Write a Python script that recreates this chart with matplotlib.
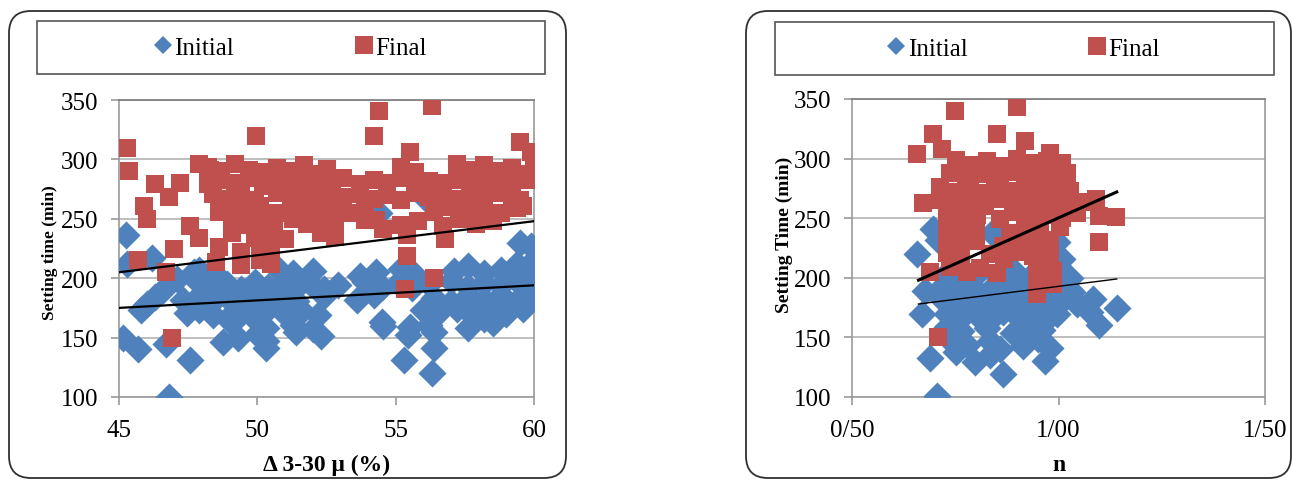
import matplotlib.pyplot as plt
from matplotlib.patches import FancyBboxPatch, Rectangle
from matplotlib.transforms import IdentityTransform
from matplotlib.lines import Line2D

# --- left chart: setting time vs delta 3-30 micron ---
init_x = [45.25, 45.15, 45.7, 45.3, 46.2, 45.8, 46.3, 47.55, 46.8, 46.7, 47.1, 47.45,
          46.0, 46.6, 47.3, 47.7,
          47.9, 48.5, 50.7, 51.3, 52.0, 53.7, 54.3, 55.2, 55.7, 57.1, 57.6, 58.2, 58.8, 59.4, 59.9,
          47.9, 48.4, 48.9, 49.4, 49.9, 50.4, 50.9, 51.4, 51.9, 52.4, 52.9, 53.9, 54.5, 55.1,
          55.6, 56.2, 57.0, 57.6, 58.2, 58.8, 59.4, 60.0,
          47.9, 48.4, 48.9, 49.4, 49.9, 50.4, 50.9, 51.4, 52.4, 53.6, 54.2, 56.4, 57.0, 57.6,
          58.2, 58.8, 59.4, 60.0,
          47.9, 48.4, 49.2, 49.8, 50.4, 51.0, 51.6, 52.2, 56.0, 56.5, 57.2, 57.8, 58.4, 59.0, 59.6,
          49.1, 50.3, 51.3, 52.0, 54.5, 55.5, 56.2, 57.6, 58.5,
          49.3, 50.3, 52.3,
          54.4, 54.55, 55.45, 55.3, 56.3, 56.4, 56.4, 56.1, 50.0, 48.75, 50.3, 51.4,
          59.5, 59.9, 60.0, 59.6, 58.2, 58.5]
init_y = [236, 150, 140, 212, 217, 173, 184, 131, 100, 145, 199, 171,
          178, 190, 182, 205,
          207, 203, 209, 204, 206, 202, 205, 208, 203, 206, 210, 204, 207, 212, 209,
          196, 192, 195, 191, 197, 193, 195, 192, 196, 191, 194, 197, 193, 196,
          192, 195, 198, 193, 196, 194, 198, 192,
          185, 181, 184, 180, 186, 182, 184, 181, 185, 182, 186, 183, 180, 185,
          182, 186, 181, 184,
          173, 169, 172, 168, 174, 170, 172, 169, 173, 170, 174, 168, 172, 170, 174,
          162, 158, 161, 157, 163, 159, 161, 158, 162,
          150, 147, 151,
          255, 160, 152, 131, 120, 141, 155, 267, 153, 146, 141, 155,
          230, 227, 215, 185, 166, 166]
final_x = [45.3, 45.35, 45.7, 46.3, 45.9, 46.0, 47.2, 46.8, 47.0, 46.7, 46.9, 47.55,
           47.9, 47.9, 48.3,
           48.2, 48.7, 49.2, 49.7, 50.2, 50.7, 51.2, 51.7, 52.2, 52.5,
           48.2, 48.7, 49.2, 49.7, 50.2, 50.7, 51.2, 51.7, 52.2, 52.7, 53.1,
           48.4, 48.9, 49.4, 49.9, 50.7, 51.2, 51.7, 52.2, 52.7, 53.1,
           48.6, 49.1, 49.6, 50.1, 50.7, 51.2, 51.7, 52.2, 52.7, 53.3, 53.9,
           49.1, 49.6, 50.1, 50.6, 51.3, 51.8, 52.3, 52.8, 53.9,
           49.1, 49.9, 50.5, 51.0, 52.3, 52.8,
           48.6, 49.4, 50.1, 50.5,
           48.5, 49.4, 50.1, 50.5,
           55.2, 55.7, 57.2, 57.7, 58.2, 58.7, 59.2, 59.5,
           53.7, 54.2, 54.7, 55.2, 55.7, 56.2, 56.7, 57.2, 57.7, 58.2, 58.7, 59.2, 59.5,
           53.7, 54.2, 54.7, 55.2, 55.7, 56.2, 56.7, 57.2, 57.7, 58.2, 58.7, 59.2, 59.5,
           56.4, 57.0, 57.6, 58.2, 58.8, 59.4,
           54.3, 55.2, 55.8, 56.7, 57.3, 57.9, 58.5,
           55.4, 56.8,
           60.0, 60.0, 59.9, 59.5, 59.6, 60.0,
           49.95, 54.4, 54.2, 56.3, 55.5, 55.4, 55.35, 56.4, 54.55]
final_y = [310, 290, 215, 279, 261, 250, 280, 268, 225, 205, 150, 244,
           234, 296, 291,
           294, 290, 296, 291, 289, 293, 290, 295, 288, 292,
           279, 283, 280, 284, 278, 282, 280, 283, 279, 281, 284,
           271, 267, 270, 266, 272, 268, 270, 267, 271, 268,
           256, 260, 257, 261, 255, 259, 256, 260, 257, 255, 259,
           249, 245, 248, 244, 250, 246, 248, 245, 249,
           238, 234, 237, 233, 238, 235,
           226, 222, 225, 223,
           214, 211, 215, 212,
           294, 289, 296, 291, 295, 290, 293, 288,
           279, 283, 280, 284, 278, 282, 280, 283, 279, 281, 284, 280, 283,
           271, 267, 270, 266, 272, 268, 270, 267, 271, 268, 272, 269, 266,
           256, 260, 257, 261, 255, 259,
           249, 245, 248, 244, 250, 246, 248,
           236, 233,
           283, 294, 306, 315, 261, 300,
           320, 341, 320, 345, 306, 219, 191, 200, 241]
trend_left_x = [45, 60]
trend_left_init = [175, 194]
trend_left_final = [205, 248]

# --- right chart: setting time vs n ---
init_n = [0.729, 0.765, 0.802, 0.858, 0.895, 0.931, 1.004, 1.028,
          0.721, 0.757, 0.794, 0.830, 0.866, 0.903, 0.939, 0.975, 1.012, 1.028,
          0.721, 0.757, 0.794, 0.830, 0.866, 0.903, 0.939, 0.975, 1.012, 1.044,
          0.729, 0.765, 0.802, 0.834, 0.866, 0.903, 0.939, 0.975, 0.996,
          0.729, 0.765, 0.826, 0.891, 0.927, 0.960,
          0.738, 0.778, 0.834, 0.915, 0.951,
          0.753, 0.834,
          0.657, 0.697, 0.709, 0.677, 0.669, 0.689, 0.705, 0.798, 0.866, 0.858,
          0.967, 0.980, 1.084, 1.097, 1.141, 1.076, 1.032, 1.008, 0.996, 0.840, 0.870]
init_n_y = [204, 200, 203, 199, 205, 201, 203, 200,
            193, 189, 192, 188, 194, 190, 192, 189, 193, 190,
            181, 177, 180, 176, 182, 178, 180, 177, 181, 178,
            170, 166, 169, 165, 171, 167, 169, 166, 170,
            159, 155, 158, 154, 160, 156,
            148, 144, 147, 143, 149,
            138, 135,
            220, 241, 232, 189, 170, 133, 101, 129, 119, 140,
            130, 141, 182, 160, 175, 171, 188, 216, 230, 238, 226]
final_n = [0.753, 0.790, 0.826, 0.862, 0.899, 0.935, 0.971, 1.008,
           0.738, 0.775, 0.811, 0.847, 0.884, 0.920, 0.956, 0.993, 1.020,
           0.713, 0.749, 0.786, 0.822, 0.858, 0.895, 0.931, 0.967, 1.004, 1.028,
           0.713, 0.749, 0.786, 0.822, 0.858, 0.891, 0.927, 0.963, 1.000, 1.036, 1.060,
           0.729, 0.765, 0.802, 0.858, 0.899, 0.935, 0.971, 1.008, 1.044,
           0.729, 0.765, 0.800, 0.883, 0.919, 0.955, 1.004,
           0.729, 0.765, 0.800, 0.866, 0.900, 0.939, 0.980,
           0.729, 0.765, 0.834, 0.868, 0.900, 0.939, 0.980,
           0.738, 0.778, 0.810, 0.850, 0.947, 0.987,
           0.947, 0.987, 0.947,
           0.749, 0.899, 0.657, 0.697, 0.717, 0.850, 0.919, 0.980, 1.008, 0.673,
           0.709, 0.689, 1.092, 1.140, 1.097, 1.040, 1.097]
final_n_y = [299, 295, 298, 294, 300, 296, 298, 295,
             288, 284, 287, 283, 289, 285, 287, 284, 288,
             276, 272, 275, 271, 277, 273, 275, 272, 276, 273,
             265, 261, 264, 260, 266, 262, 264, 261, 265, 262, 264,
             254, 250, 253, 249, 255, 251, 253, 250, 254,
             243, 239, 242, 238, 244, 240, 243,
             232, 228, 231, 227, 233, 229, 232,
             221, 217, 220, 216, 222, 218, 221,
             209, 205, 208, 204, 210, 206,
             197, 195, 186,
             340, 343, 304, 321, 308, 321, 315, 305, 296, 263,
             150, 205, 266, 251, 230, 258, 252]
trend_right_x = [0.661, 1.141]
trend_right_init = [178, 199]
trend_right_final = [198, 272]

BLUE = '#4F81BD'
RED = '#C0504D'
W, H = 1292, 481
SERIF = ['Liberation Serif', 'DejaVu Serif']

fig = plt.figure(figsize=(W / 100, H / 100), dpi=100)
fig.patch.set_facecolor('white')


def px_axes(left, top, right, bottom):
    # pixel box (image coords, y down) -> figure fraction rect
    return [left / W, 1 - bottom / H, (right - left) / W, (bottom - top) / H]


def panel(left, right, ax_box, legend_box, xs, ys, fx, fy, tx, ti, tf,
          xlim, xticks, xticklabels, xlabel, ylabel, ylabel_size, ylabel_pos,
          lw_init, lw_final):
    # rounded outer frame
    fig.patches.append(FancyBboxPatch(
        (left, 2), right - left, H - 14, boxstyle='round,pad=0,rounding_size=22',
        transform=IdentityTransform(), fill=False, edgecolor='#303030', linewidth=1.3))

    ax = fig.add_axes(px_axes(*ax_box))
    ax.scatter(xs, ys, marker='D', s=205, color=BLUE, linewidths=0, zorder=3)
    ax.scatter(fx, fy, marker='s', s=185, color=RED, linewidths=0, zorder=4)
    ax.plot(tx, ti, color='black', lw=lw_init, zorder=5)
    ax.plot(tx, tf, color='black', lw=lw_final, zorder=5)

    ax.set_xlim(*xlim)
    ax.set_ylim(100, 350)
    ax.set_xticks(xticks)
    ax.set_xticklabels(xticklabels)
    ax.set_yticks([100, 150, 200, 250, 300, 350])
    ax.grid(axis='y', color='#BEBEBE', lw=1.4)
    ax.set_axisbelow(True)
    for s in ax.spines.values():
        s.set_color('#9A9A9A')
        s.set_linewidth(1.2)
    ax.spines['top'].set_color('#7A7A7A')
    ax.tick_params(direction='out', length=6, width=1.2, color='#9A9A9A',
                   labelsize=18)
    ax.tick_params(axis='y', pad=9)
    ax.tick_params(axis='x', pad=10)
    for lab in ax.get_xticklabels() + ax.get_yticklabels():
        lab.set_family(SERIF)
    ax.set_xlabel(xlabel, family=SERIF, fontweight='bold', fontsize=17)
    ax.xaxis.set_label_coords(0.5, -0.19)
    ax.set_ylabel(ylabel, family=SERIF, fontweight='bold', fontsize=ylabel_size)
    ax.yaxis.set_label_coords(*ylabel_pos)

    # legend frame and entries
    l, t, r, b = legend_box
    fig.patches.append(Rectangle((l, H - b), r - l, b - t, transform=IdentityTransform(),
                                 fill=False, edgecolor='#555555', linewidth=1.2))
    handles = [Line2D([], [], marker='D', ls='none', color=BLUE, ms=9.5, mew=0),
               Line2D([], [], marker='s', ls='none', color=RED, ms=12.5, mew=0)]
    fig.legend(handles, ['Initial', 'Final'], loc='center',
               bbox_to_anchor=((l + r) / 2 / W, 1 - (t + b) / 2 / H),
               ncol=2, frameon=False, handlelength=0.6, handletextpad=0.15,
               columnspacing=4.9, prop={'family': SERIF, 'size': 18})
    return ax


panel(9, 566, (119, 101, 534, 398), (37, 22, 545, 75),
      init_x, init_y, final_x, final_y,
      trend_left_x, trend_left_init, trend_left_final,
      (45, 60), [45, 50, 55, 60], ['45', '50', '55', '60'],
      'Δ 3-30 μ (%)', 'Setting time (min)', 12.5, (-0.147, 0.49), 1.6, 1.6)

panel(746, 1291, (852, 100, 1265, 398), (775, 23, 1274, 76),
      init_n, init_n_y, final_n, final_n_y,
      trend_right_x, trend_right_init, trend_right_final,
      (0.5, 1.5), [0.5, 1.0, 1.5], ['0/50', '1/00', '1/50'],
      'n', 'Setting Time (min)', 14, (-0.143, 0.547), 1.0, 2.2)

fig.savefig('out.png', dpi=100)
